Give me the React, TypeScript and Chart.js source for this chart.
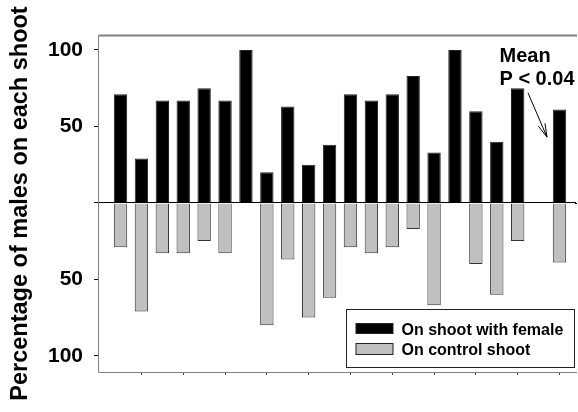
import React, { useEffect, useRef } from 'react';
import { Chart, registerables } from 'chart.js';

Chart.register(...registerables);

// ---- data ----
const shootPositions = [1, 2, 3, 4, 5, 6, 7, 8, 9, 10, 11, 12, 13, 14, 15, 16, 17, 18, 19, 20, 22];
const shootNames = ['1', '2', '3', '4', '5', '6', '7', '8', '9', '10', '11', '12', '13', '14', '15', '16', '17', '18', '19', '20', 'Mean'];
const withFemale = [71, 29, 67, 67, 75, 67, 100, 20, 63, 25, 38, 71, 67, 71, 83, 33, 100, 60, 40, 75, 61];
const onControl = [29, 71, 33, 33, 25, 33, 0, 80, 37, 75, 62, 29, 33, 29, 17, 67, 0, 40, 60, 25, 39];
const yTickValues = [-100, -50, 0, 50, 100];
const xTickValues = [2, 4, 6, 8, 10, 12, 14, 16, 18, 20, 22];
const seriesLabels = ['On shoot with female', 'On control shoot'];
const yTitle = 'Percentage of males on each shoot';
const noteLines = ['Mean', 'P < 0.04'];
const meanPosition = 22;

const FONT = '"Liberation Sans", Arial, Helvetica, sans-serif';
const BLACK = '#000000';
const GREY = '#c0c0c0';
const FRAME = '#808080';

const framePlugin = {
  id: 'frame',
  beforeDatasetsDraw(chart: any) {
    const { ctx, chartArea } = chart;
    const l = Math.round(chartArea.left) - 0.5;
    const t = Math.round(chartArea.top) + 0.5;
    const b = Math.round(chartArea.bottom) + 0.5;
    const r = chart.width - 1;
    ctx.save();
    ctx.strokeStyle = FRAME;
    ctx.lineWidth = 2;
    ctx.beginPath();
    ctx.moveTo(l, t);
    ctx.lineTo(r, t);
    ctx.stroke();
    ctx.lineWidth = 1;
    ctx.beginPath();
    ctx.moveTo(l, t);
    ctx.lineTo(l, b);
    ctx.lineTo(r, b);
    ctx.stroke();
    // zero line continues to the edge
    const z = Math.round(chart.scales.y.getPixelForValue(0)) + 0.5;
    ctx.strokeStyle = '#000';
    ctx.beginPath();
    ctx.moveTo(chartArea.right - 1, z);
    ctx.lineTo(r, z);
    ctx.stroke();
    ctx.restore();
  },
};

const overlayPlugin = {
  id: 'overlay',
  afterDraw(chart: any) {
    const { ctx, chartArea, scales } = chart;
    ctx.save();
    // legend box
    const boxW = 228;
    const boxH = 58;
    const bx = Math.round(chartArea.right - 2 - boxW) + 0.5;
    const by = Math.round(chartArea.bottom - 5 - boxH) + 0.5;
    ctx.fillStyle = '#ffffff';
    ctx.fillRect(bx, by, boxW, boxH);
    ctx.strokeStyle = '#222';
    ctx.lineWidth = 1;
    ctx.strokeRect(bx, by, boxW, boxH);
    const colors = [BLACK, GREY];
    const sw = [
      { y: by + 14, h: 10 },
      { y: by + 34, h: 11 },
    ];
    ctx.font = `bold 16px ${FONT}`;
    ctx.textBaseline = 'alphabetic';
    ctx.textAlign = 'left';
    seriesLabels.forEach((lab, i) => {
      ctx.fillStyle = colors[i];
      ctx.fillRect(bx + 9.5, sw[i].y, 37, sw[i].h);
      ctx.strokeStyle = '#222';
      ctx.strokeRect(bx + 9.5, sw[i].y, 37, sw[i].h);
      ctx.fillStyle = '#000';
      ctx.fillText(lab, bx + 55, by + 25 + i * 20);
    });

    // annotation
    const mx = scales.x.getPixelForValue(meanPosition);
    ctx.font = `bold 20px ${FONT}`;
    ctx.fillStyle = '#000';
    ctx.fillText(noteLines[0], mx - 60, 62);
    ctx.fillText(noteLines[1], mx - 60, 85);
    const sx = mx - 31.5;
    const sy = scales.y.getPixelForValue(72);
    const tx = mx - 12.5;
    const ty = scales.y.getPixelForValue(43);
    ctx.strokeStyle = '#000';
    ctx.lineWidth = 1;
    ctx.beginPath();
    ctx.moveTo(sx, sy);
    ctx.lineTo(tx, ty);
    const ang = Math.atan2(ty - sy, tx - sx);
    const len = 14;
    const spread = 0.26;
    ctx.moveTo(tx - len * Math.cos(ang - spread), ty - len * Math.sin(ang - spread));
    ctx.lineTo(tx, ty);
    ctx.lineTo(tx - len * Math.cos(ang + spread), ty - len * Math.sin(ang + spread));
    ctx.stroke();
    ctx.restore();
  },
};

export default function App() {
  const ref = useRef<HTMLCanvasElement | null>(null);
  useEffect(() => {
    if (!ref.current) return;
    const chart = new Chart(ref.current, {
      type: 'bar',
      data: {
        datasets: [
          {
            label: seriesLabels[0],
            data: shootPositions.map((x, i) => ({ x, y: withFemale[i], name: shootNames[i] })) as any,
            backgroundColor: BLACK,
            borderColor: '#222',
            borderWidth: 1,
            xAxisID: 'x',
            yAxisID: 'y',
          },
          {
            label: seriesLabels[1],
            data: shootPositions.map((x, i) => ({ x, y: -onControl[i], name: shootNames[i] })) as any,
            backgroundColor: GREY,
            borderColor: '#333',
            borderWidth: 1,
            xAxisID: 'x',
            yAxisID: 'y',
          },
        ],
      },
      options: {
        animation: false,
        responsive: false,
        layout: { padding: { top: 35, left: 0, right: 2, bottom: 0 } },
        plugins: { legend: { display: false }, tooltip: { enabled: false } },
        datasets: { bar: { grouped: false, categoryPercentage: 1, barPercentage: 0.64 } } as any,
        scales: {
          x: {
            type: 'linear',
            position: 'bottom',
            offset: false,
            min: -0.03,
            max: 22.79,
            afterBuildTicks: (s: any) => {
              s.ticks = xTickValues.map((v) => ({ value: v }));
            },
            afterFit: (s: any) => {
              s.height = 40;
            },
            ticks: { display: false },
            grid: { offset: false, drawOnChartArea: false, drawTicks: true, tickLength: 3, color: '#444', tickColor: '#444' },
            border: { display: false },
          },
          y: {
            type: 'linear',
            position: 'left',
            min: -110.6,
            max: 109.8,
            afterBuildTicks: (s: any) => {
              s.ticks = yTickValues.map((v) => ({ value: v }));
            },
            afterFit: (s: any) => {
              s.width = 99;
            },
            ticks: {
              callback: (v: any) => (Number(v) === 0 ? '' : String(Math.abs(Number(v)))),
              font: { family: FONT, size: 21, weight: 'bold' },
              color: '#000',
              padding: 11,
            },
            grid: {
              color: (c: any) => (c.tick && c.tick.value === 0 ? '#000' : 'rgba(0,0,0,0)'),
              tickColor: '#000',
              tickLength: 5,
              drawTicks: true,
            },
            border: { display: false },
            title: {
              display: true,
              text: yTitle,
              font: { family: FONT, size: 23.5, weight: 'bold' },
              color: '#000',
              padding: { top: 6, bottom: 0 },
            },
          },
        },
      } as any,
      plugins: [framePlugin, overlayPlugin],
    });
    return () => chart.destroy();
  }, []);
  return (
    <div style={{ position: 'absolute', left: 0, top: 0, width: 578, height: 412, background: '#fff' }}>
      <canvas ref={ref} width={578} height={412} style={{ display: 'block' }} />
    </div>
  );
}
